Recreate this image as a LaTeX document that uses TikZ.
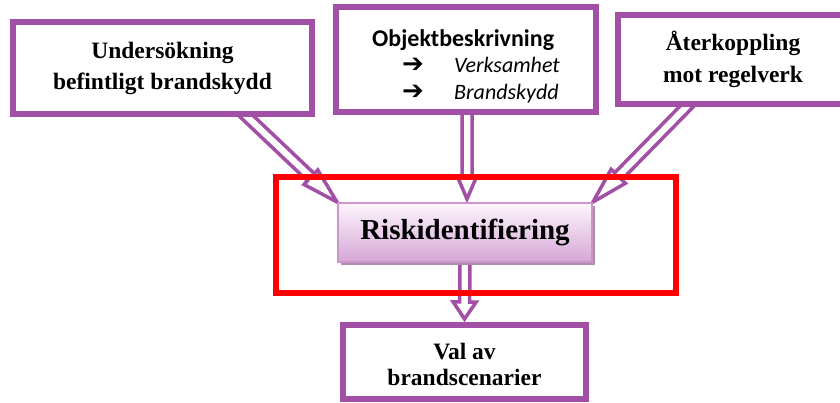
\documentclass[tikz,border=0pt]{standalone}
\usepackage{fontspec}
\setmainfont{Liberation Serif}
\newfontfamily\calibri{Carlito}
\newfontfamily\symbolsfont{DejaVu Sans}
\usetikzlibrary{calc,shadows,backgrounds}

\definecolor{boxpurple}{RGB}{162,80,166}
\definecolor{framered}{RGB}{255,0,0}
\definecolor{riskborder}{RGB}{204,150,204}
\definecolor{risktop}{RGB}{252,245,252}
\definecolor{riskbottom}{RGB}{214,166,214}
\definecolor{riskshadow}{RGB}{170,140,170}

% Hollow block arrow: #1 name prefix, #2 tail point, #3 tip point,
% #4 head length, #5 half head width, #6 half shaft width
\newcommand\blockarrow[6]{%
  \coordinate (#1-t) at #2;
  \coordinate (#1-h) at #3;
  \coordinate (#1-b) at ($(#1-h)!#4!(#1-t)$);
  \draw[hollowarrow]
    ($(#1-t)!#6!90:(#1-h)$) -- ($(#1-b)!#6!90:(#1-h)$)
    -- ($(#1-b)!#5!90:(#1-h)$) -- (#1-h)
    -- ($(#1-b)!#5!-90:(#1-h)$) -- ($(#1-b)!#6!-90:(#1-h)$)
    -- ($(#1-t)!#6!-90:(#1-h)$) -- cycle;
}
% bullet arrow used in the object description list
\newcommand\listarrow{\makebox[52pt][l]{\symbolsfont\bfseries\fontsize{26}{26.5}\selectfont ➔}}

\begin{document}
\begin{tikzpicture}[x=1pt,y=-1pt,
  purplebox/.style={draw=boxpurple, line width=6pt, fill=white,
    inner sep=0pt, align=center},
  serifbold/.style={font=\fontsize{23.5}{31}\selectfont\bfseries},
  hollowarrow/.style={draw=boxpurple, fill=white, line width=3.5pt,
    line join=miter},
  riskbox/.style={draw=riskborder, line width=2pt,
    top color=risktop, bottom color=riskbottom,
    drop shadow={shadow xshift=3pt, shadow yshift=-3pt,
      fill=riskshadow, opacity=1},
    inner sep=0pt, font=\fontsize{29}{34}\selectfont\bfseries},
  redframe/.style={draw=framered, line width=6pt, inner sep=0pt}]

\useasboundingbox (0,0) rectangle (840,402);

% input boxes along the top
\node[purplebox, serifbold, minimum width=299pt, minimum height=92pt]
  (b1) at (162.5,68) {Undersökning\\befintligt brandskydd};

\node[purplebox, line width=6.5pt, minimum width=260pt, minimum height=105pt,
  align=left, font=\calibri\fontsize{22}{26.5}\selectfont]
  (b2) at (466,59.5)
  {\rule{0pt}{30pt}{\fontsize{24}{26.5}\selectfont\bfseries Objektbeskrivning}\\
   \hspace*{30pt}\listarrow\textit{Verksamhet}\\
   \hspace*{30pt}\listarrow\textit{Brandskydd}};

\node[purplebox, font=\fontsize{23.5}{32}\selectfont\bfseries,
  minimum width=230pt, minimum height=89pt]
  (b3) at (733,59.5) {Återkoppling\\mot regelverk};

% central step and its frame
\node[riskbox, minimum width=254pt, minimum height=59pt]
  (risk) at (465,232.5) {Riskidentifiering};

% result box
\node[purplebox, font=\fontsize{23.5}{26}\selectfont\bfseries,
  minimum width=243pt, minimum height=74pt]
  (b5) at (464.5,362) {\rule{0pt}{22pt}Val av\\brandscenarier};

% connectors behind the boxes
\begin{scope}[on background layer]
  \blockarrow{a1}{([shift={(77.5,-7)}]b1.south)}{(risk.north west)}{36pt}{10pt}{5pt}
  \blockarrow{a2}{([shift={(1,-4)}]b2.south)}{([shift={(2,-3)}]risk.north)}{21pt}{9pt}{5pt}
  \blockarrow{a3}{([shift={(-40,-7)}]b3.south)}{(risk.north east)}{36pt}{10pt}{5pt}
  \blockarrow{a4}{(risk.south)}{([shift={(0,-3)}]b5.north)}{17pt}{11.5pt}{5pt}
\end{scope}

\node[redframe, minimum width=400pt, minimum height=116pt]
  (frame) at (476,235) {};
\end{tikzpicture}
\end{document}
